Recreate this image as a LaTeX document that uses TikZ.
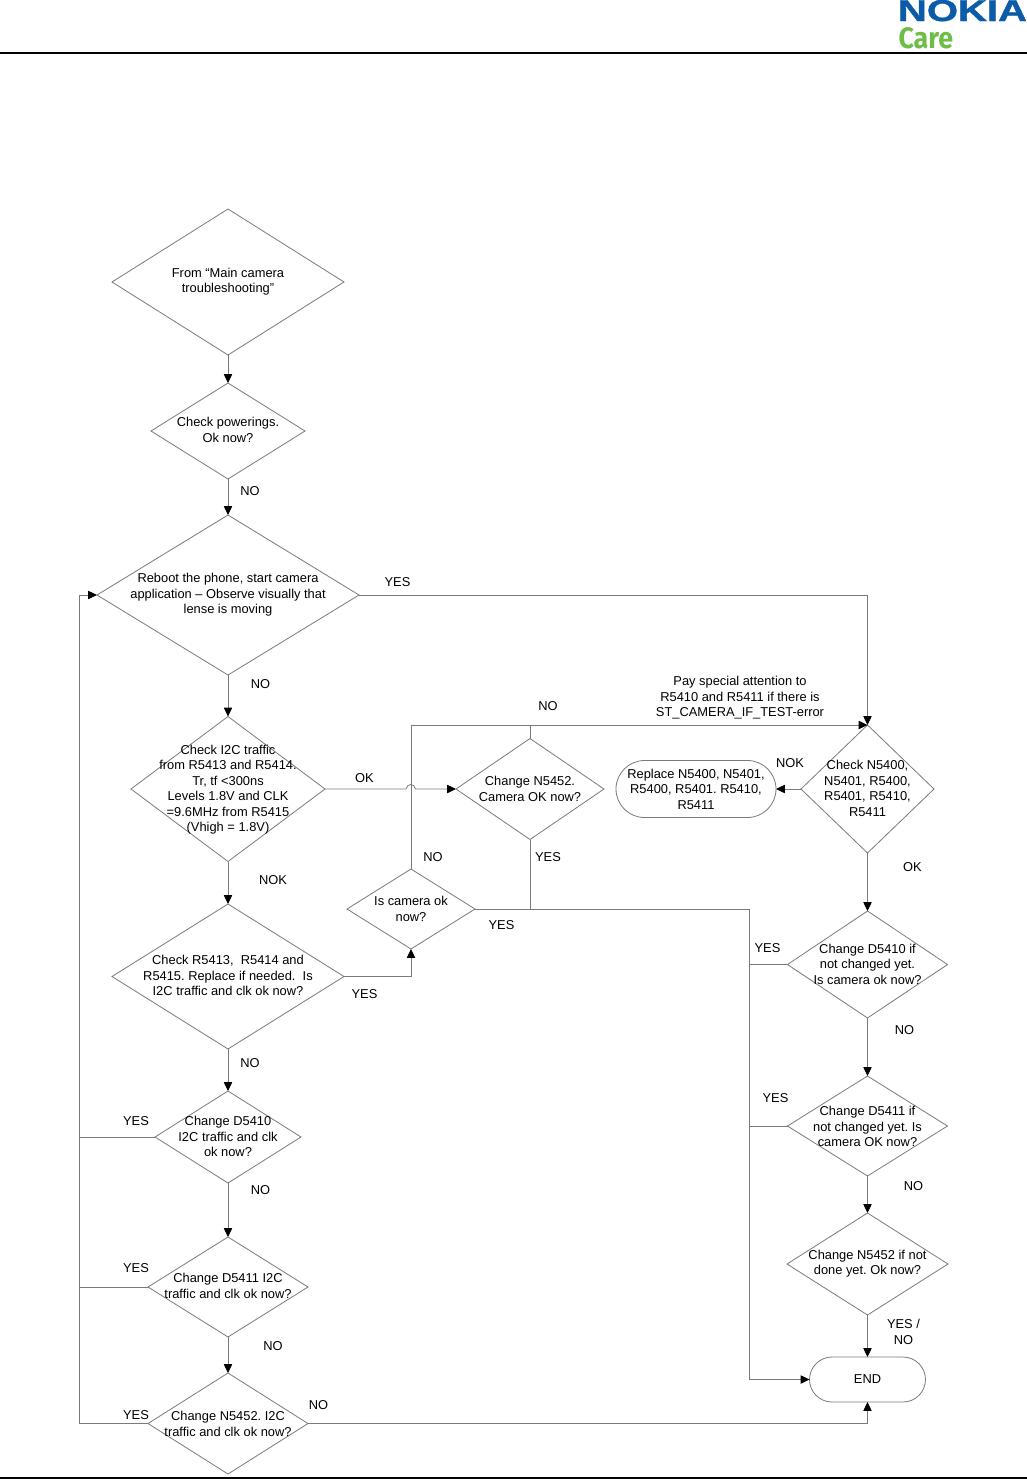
\documentclass[tikz,border=0pt]{standalone}
\usepackage{fontspec}
\setmainfont{Liberation Sans}
\newfontfamily\carefont{Fira Sans}
\newfontfamily\nokiafont[FakeBold=1.2]{Liberation Sans Bold}
\usetikzlibrary{shapes.geometric,shapes.misc,arrows.meta}
\definecolor{linegray}{HTML}{7A7A7A}
\definecolor{nokiablue}{HTML}{0A5CA8}
\definecolor{caregreen}{HTML}{6DBE45}
\frenchspacing
\tikzset{
  flow/.style={draw=linegray,line width=0.6pt,fill=none,line join=miter},
  arrowed/.style={flow,-{Triangle[black,length=6.6pt,width=6.2pt]}},
  dia/.style={diamond,draw=linegray,line width=0.6pt,inner sep=0pt,outer sep=0pt},
  term/.style={rounded rectangle,draw=linegray,line width=0.6pt,inner sep=0pt,outer sep=0pt},
  txt/.style={align=center,inner sep=0pt,outer sep=0pt,font=\fontsize{9.65}{11.65}\selectfont},
  rule/.style={draw=black}
}
% name, cx, cy, width, height, text centre y, text
\newcommand{\dianode}[7]{%
  \node[dia,minimum width=#4*0.75pt,minimum height=#5*0.75pt] (#1) at (#2,#3) {};
  \node[txt] (#1-t) at (#2,#6) {#7};}
\newcommand{\lab}[4]{\node[txt] (#1) at (#2,#3) {#4};}
\begin{document}
\begin{tikzpicture}[x=0.75pt,y=-0.75pt]
\useasboundingbox (0,0) rectangle (1027,1479);
\fill[white] (0,0) rectangle (1027,1479);
% header / footer
\coordinate (tl) at (0,53); \coordinate (tr) at (1027,53);
\draw[rule,line width=1.5pt] (tl) -- (tr);
\coordinate (bl) at (0,1478); \coordinate (br) at (1027,1478);
\draw[rule,line width=2pt] (bl) -- (br);
\node[anchor=north west,inner sep=0pt,outer sep=0pt,text=nokiablue] (nokia) at (898,0)
  {\resizebox{96.75pt}{15.75pt}{\nokiafont NOKIA}};
\node[anchor=north west,inner sep=0pt,outer sep=0pt,text=caregreen] (care) at (898.5,27.5)
  {\resizebox{41pt}{15.75pt}{\carefont\bfseries Care}};
% left column
\dianode{a}{228}{282}{232}{146}{281.5}{From “Main camera\\troubleshooting”}
\dianode{b}{228}{431}{154}{96}{430}{Check powerings.\\Ok now?}
\dianode{c}{228}{595}{262}{160}{595}{Reboot the phone, start camera\\application – Observe visually that\\lense is moving}
\dianode{d}{228}{789}{194}{145}{789.5}{Check I2C traffic\\from R5413 and R5414.\\Tr, tf <300ns\\Levels 1.8V and CLK\\=9.6MHz from R5415\\(Vhigh = 1.8V)}
\dianode{e}{228}{976.5}{232}{145}{975.5}{Check R5413,\ \ R5414 and\\R5415. Replace if needed.\ \ Is\\I2C traffic and clk ok now?}
\dianode{f}{228}{1137}{146}{92}{1136.5}{Change D5410\\I2C traffic and clk\\ok now?}
\dianode{g}{228}{1287}{160}{100}{1286}{Change D5411 I2C\\traffic and clk ok now?}
\dianode{h}{228}{1423.5}{160}{101}{1424}{Change N5452. I2C\\traffic and clk ok now?}
% middle
\dianode{m}{530}{789}{148}{101}{789}{Change N5452.\\Camera OK now?}
\dianode{i}{411}{909}{128}{80}{909}{Is camera ok\\now?}
% right column
\dianode{n}{867.5}{789}{133}{128}{788.5}{Check N5400,\\N5401, R5400,\\R5401, R5410,\\R5411}
\dianode{p}{867.5}{964.5}{160}{107}{964}{Change D5410 if\\not changed yet.\\Is camera ok now?}
\dianode{q}{867.5}{1126}{160}{100}{1126.5}{Change D5411 if\\not changed yet. Is\\camera OK now?}
\dianode{r}{867.5}{1264}{161}{102}{1263.5}{Change N5452 if not\\done yet. Ok now?}
\node[term,minimum width=160*0.75pt,minimum height=57*0.75pt] (rep) at (696,789) {};
\node[txt] (rep-t) at (696,789) {Replace N5400, N5401,\\R5400, R5401. R5410,\\R5411};
\node[term,minimum width=116*0.75pt,minimum height=45*0.75pt] (end) at (867.5,1379.5) {};
\node[txt] (end-t) at (867.5,1379) {END};
% bus coordinates
\coordinate (lbus) at (79,1000);
\coordinate (rbus) at (749,1000);
\coordinate (jl) at (406,789);
\coordinate (jr) at (415.5,789);
% connectors, left column
\draw[arrowed] (a.south) -- (b.north);
\draw[arrowed] (b.south) -- (c.north);
\draw[arrowed] (c.south) -- (d.north);
\draw[arrowed] (d.south) -- (e.north);
\draw[arrowed] (e.south) -- (f.north);
\draw[arrowed] (f.south) -- (g.north);
\draw[arrowed] (g.south) -- (h.north);
\draw[arrowed] (c.east) -| (n.north);
\draw[arrowed] (d.east) -- (jl) .. controls ([xshift=1pt,yshift=4.5pt]jl) and ([xshift=-1pt,yshift=4.5pt]jr) .. (jr) -- (m.west);
\draw[arrowed] (e.east) -| (i.south);
\draw[arrowed] (i.north) |- (n.north);
\draw[flow] (m.north) -- (m.north |- n.north);
\draw[flow] (m.south) -- (m.south |- i.east);
\draw[arrowed] (i.east) -- (i.east -| rbus) -- (rbus |- end.west) -- (end.west);
\draw[flow] (p.west) -- (p.west -| rbus);
\draw[flow] (q.west) -- (q.west -| rbus);
\draw[arrowed] (n.west) -- (rep.east);
\draw[arrowed] (n.south) -- (p.north);
\draw[arrowed] (p.south) -- (q.north);
\draw[arrowed] (q.south) -- (r.north);
\draw[arrowed] (r.south) -- (end.north);
\draw[arrowed] (h.east) -| (end.south);
\draw[arrowed] (h.west) -- (h.west -| lbus) -- (lbus |- c.west) -- (c.west);
\draw[flow] (f.west) -- (f.west -| lbus);
\draw[flow] (g.west) -- (g.west -| lbus);
% labels
\lab{l1}{250}{491}{NO}
\lab{l2}{397.5}{582}{YES}
\lab{l3}{260.5}{684}{NO}
\lab{l4}{364.5}{778.5}{OK}
\lab{l5}{548}{706}{NO}
\lab{l6}{790}{763}{NOK}
\lab{l7}{740}{698}{Pay special attention to\\R5410 and R5411 if there is\\ST\_CAMERA\_IF\_TEST-error}
\lab{l8}{273}{880}{NOK}
\lab{l9}{433}{857}{NO}
\lab{l10}{548}{857}{YES}
\lab{l11}{912.5}{867}{OK}
\lab{l12}{501.5}{925}{YES}
\lab{l13}{767.5}{948}{YES}
\lab{l14}{364.5}{994}{YES}
\lab{l15}{904.5}{1030}{NO}
\lab{l16}{250}{1063}{NO}
\lab{l17}{136}{1121.5}{YES}
\lab{l18}{775.5}{1098}{YES}
\lab{l19}{260.5}{1190}{NO}
\lab{l20}{913.5}{1186}{NO}
\lab{l21}{136}{1268}{YES}
\lab{l22}{273}{1346}{NO}
\lab{l23}{903.5}{1332}{YES /\\NO}
\lab{l24}{136}{1415}{YES}
\lab{l25}{318.5}{1405}{NO}
\end{tikzpicture}
\end{document}
